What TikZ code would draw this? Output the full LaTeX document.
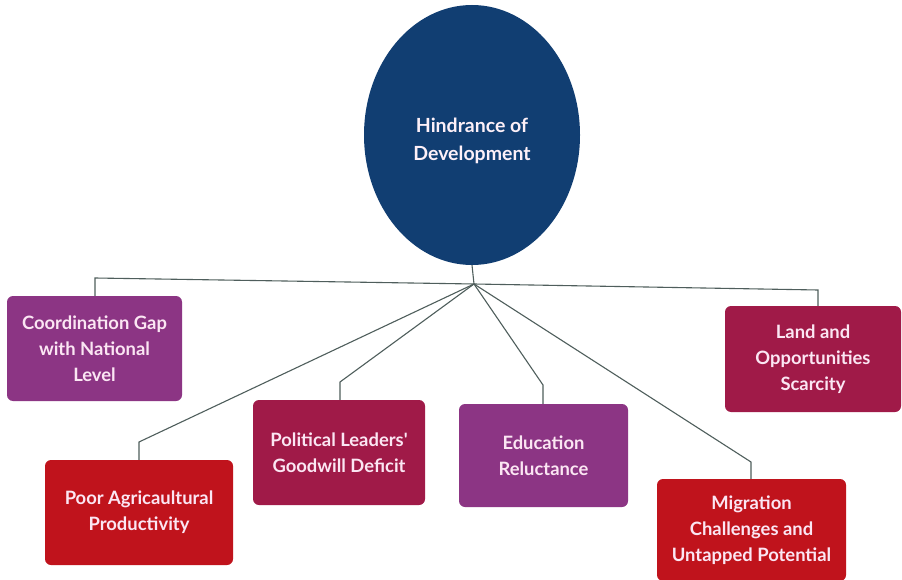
\documentclass[tikz,border=0pt]{standalone}
\usepackage{fontspec}
\setmainfont{Lato}
\usetikzlibrary{shapes.geometric}
\definecolor{navy}{HTML}{113E72}
\definecolor{plum}{HTML}{8C3584}
\definecolor{crimson}{HTML}{A01A48}
\definecolor{redbox}{HTML}{C0131C}
\definecolor{linegray}{HTML}{4F5E5C}
\definecolor{boxtext}{HTML}{FBE6F3}
\begin{document}
\begin{tikzpicture}[x=1pt,y=-1pt,
  box/.style={rectangle, rounded corners=6pt, text=boxtext, align=center,
    font=\bfseries\fontsize{18.4}{26}\selectfont, inner sep=0pt},
  conn/.style={draw=linegray, line width=1.1pt}]
\useasboundingbox (0,0) rectangle (902,580);
\fill[white] (0,0) rectangle (902,580);
\node[ellipse, fill=navy, minimum width=216pt, minimum height=260pt, inner sep=0pt,
  text=boxtext!60!white, font=\bfseries\fontsize{19.5}{28}\selectfont] (root) at (472,135)
  {\smash{\raisebox{-11pt}{\begin{tabular}{@{}c@{}}Hindrance of\\Development\end{tabular}}}};
\coordinate (hub) at (474,284);
\node[box, fill=plum, minimum width=175pt, minimum height=105pt] (coord) at (94.5,348.5) {Coordination Gap\\with National\\Level};
\node[box, fill=crimson, minimum width=176pt, minimum height=106pt] (land) at (813,359) {Land and\\Opportunities\\Scarcity};
\node[box, fill=crimson, minimum width=172pt, minimum height=105pt] (pol) at (339,452.5) {Political Leaders\textquotesingle\\Goodwill Deficit};
\node[box, fill=plum, minimum width=169pt, minimum height=103pt] (edu) at (543.5,455.5) {Education\\Reluctance};
\node[box, fill=redbox, minimum width=188pt, minimum height=105pt] (agri) at (139,512.5) {Poor Agricaultural\\Productivity};
\node[box, fill=redbox, minimum width=189pt, minimum height=102pt] (mig) at (751.5,530) {Migration\\Challenges and\\Untapped Potential};
\coordinate (cc) at (95,278);
\coordinate (cl) at (818,290);
\coordinate (cp) at (340,382);
\coordinate (ce) at (543,385);
\coordinate (ca) at (139,442);
\coordinate (cm) at (751,462);
\draw[conn] (root.south) -- (hub);
\draw[conn] (hub) -- (cc) -- (coord.north -| cc);
\draw[conn] (hub) -- (cl) -- (land.north -| cl);
\draw[conn] (hub) -- (cp) -- (pol.north -| cp);
\draw[conn] (hub) -- (ce) -- (edu.north -| ce);
\draw[conn] (hub) -- (ca) -- (agri.north -| ca);
\draw[conn] (hub) -- (cm) -- (mig.north -| cm);
\end{tikzpicture}
\end{document}
